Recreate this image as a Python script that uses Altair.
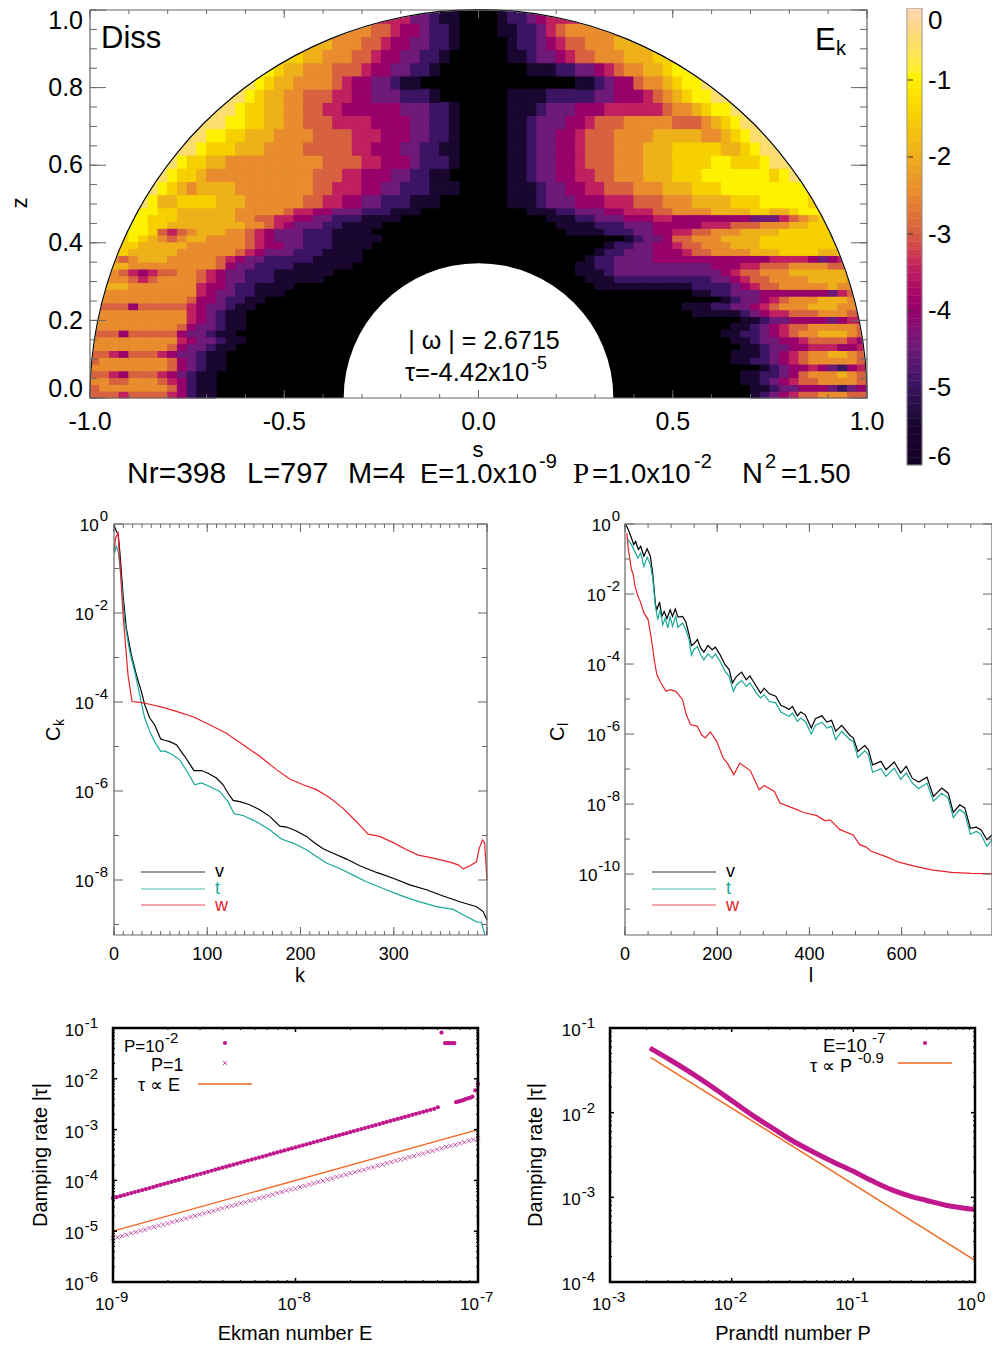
import altair as alt
import pandas as pd

FONT = "Liberation Sans"
MAG = "#c0188c"
ORANGE = "#f26522"
TEAL = "#1aa89a"
RED = "#e8212b"
GRAY = "#666666"
VW, VH = 984, 1343

# ---- log10 energy map, one character per cell: 0=-6, 1=-5.5 ... 9=-1.5, a=-1, b=-0.5, c=0
HEAT_LEFT = [
 "6665666654211","6777777764211","7766777654211","6654666543211","77777777643211",
 "67777777643211","66546665433211","777777776433211","7777777775433211","666466666433211",
 "7777777776433211","7777777777543211","6777777777543211","66664666665433211","677777777764432211",
 "77777777777543322111","888877777775443221111","777765677776543322211111","8876545667765433222111111",
 "888877777777764332222111111","8876788877777654332222211111",
 "9999888887777776543332221111","99999888887777776544332221111","9999a9876788777765433322211111",
 "9999aa96567888776543332221111","9999aa998888888877654333221111","aaaaaa99988888877665544332221111",
 "aaaaaaa998888887777765544333222111",
 "bbbbbba88999988877777766554433222111","bbbbbbba987888877777777665554433222111",
 "bbbbbbbba9987777777777766655444332211",
 "b"*9+"a99887777777777666655444322"+"21",
 "b"*11+"a999888777766666554443322"+"11",
 "b"*12+"aa9988877776666555444332"+"21",
 "b"*14+"aa9988776665555444433221",
 "b"*15+"a998877665544444433322"+"1",
 "b"*16+"a988776665544333222"+"1",
 "b"*17+"a9887777654433211",
 "a"*19+"98877766654433221",
 "9"*22+"887776654433221",
 "8"*25+"7776654433221",
 "7"*29+"665443221",
 "5"*33+"33211",
]
HEAT_RIGHT = [
 "123456677766","112334443234","1123456677776","1122346777876","12344543245",
 "11223456777776","11123456778876","1123344555445","11233445666654","112234567788876",
 "11234566777776","1123344443455","111112345566677765","1112233456777888775","123345677788876",
 "112233344444443566","1111111111222234566777778776","11122222222223345667777888877",
 "111233333333333456677788888887","112233333333334445566677776677",
 "12233334444444444445555434568",
 "1223334445667777888999988999","1223344566777888999999999aa",
 "1233466777888899999999aaa","11112223344556677788889999999aa",
 "1111222333444445556667778899aaaa",
 "11122333444554444444433356789aabb",
 "1112233344555667777888899889aaaabbb",
 "1112333444555666777888899 9aaaaa9bbbbb".replace(" ",""),
 "1112334455666777888999aaaaaaaaabbbbbb",
 "11233445566777888999aaaaaaa9abbbbbbbb",
 "112334456667778889999aa999a"+"b"*10,
 "1123344566677788899999889a"+"b"*11,
 "1123344566677778888877 89a".replace(" ","")+"b"*12,
 "112333445666777776667 89a".replace(" ","")+"b"*13,
 "111233344455555567789aa"+"b"*14,
 "1111222223344456789aa"+"b"*16,
 "11234467789aa"+"b"*17,
 "111223345677889aa"+"b"*18,
 "112334566777888"+"9"*22,
 "12234566777"+"8"*26,
 "1122356"+"7"*31,
 "12234"+"5"*33,
]
Z_EDGES = [round(i*0.0175,4) for i in range(29)] + [round(0.49+0.034*i,4) for i in range(1,16)]

COLOR_DOMAIN = [-6,-5.5,-5,-4.5,-4,-3.5,-3,-2.5,-2,-1.5,-1,-0.5,0]
COLOR_RANGE = ["#000000","#1a0730","#3b1463","#6f1a78","#98006a","#c0205f","#d8623f","#e88c2e",
               "#efb11a","#f7d000","#fff200","#fbdd70","#fbd9c8"]
CB_LABELS = ["0","-1","-2","-3","-4","-5","-6"]
CB_LABEL_POS = [-0.234,-1.015,-2.004,-3.007,-3.996,-4.998,-5.896]
S_LABELS = [-1, -.5, 0, .5, 1]
Z_LABELS = [0, .2, .4, .6, .8, 1]
Z_LABEL_SHIFT = [-9, 1, 0, 0, 0, 11]

# ---- spectra: (degree, log10 amplitude)
CK_V = [(0,-.015),(2.5,-.165),(4.6,-.24),(6.8,-.765),(9.7,-1.59),(13.2,-2.34),(18.6,-2.94),(24,-3.39),(29.3,-3.76),(32.9,-4.06),(38.3,-4.36),(43.6,-4.51),(50,-4.83),(54.4,-4.86),(59.7,-4.89),(66.9,-4.96),(75.8,-5.22),(85.8,-5.54),(93.7,-5.54),(100.9,-5.6),(109.8,-5.71),(117,-5.86),(122.3,-6.05),(127.7,-6.21),(134.8,-6.24),(145.6,-6.31),(156.3,-6.42),(167,-6.57),(177.8,-6.79),(184.9,-6.81),(195.6,-6.9),(206.4,-7.02),(213.5,-7.14),(224.2,-7.3),(235,-7.4),(249.3,-7.53),(263.6,-7.68),(281.5,-7.83),(299.4,-7.96),(317.2,-8.11),(335.1,-8.22),(353,-8.36),(370.9,-8.49),(388.8,-8.6),(395.9,-8.71),(400,-8.9)]
CK_T = [(.7,-.65),(2.5,-.5),(4.6,-.61),(7.9,-1.29),(11.4,-2.19),(16.8,-2.86),(22.2,-3.31),(27.5,-3.84),(32.9,-4.36),(38.3,-4.66),(43.6,-4.89),(50,-5.11),(54.4,-5.1),(63.3,-5.19),(70.5,-5.3),(79.4,-5.6),(86.6,-5.86),(93.7,-5.82),(102.6,-5.9),(113.4,-6.01),(122.3,-6.24),(128.8,-6.51),(138.4,-6.55),(152.7,-6.69),(167,-6.87),(179.5,-7.08),(192.1,-7.17),(206.4,-7.32),(217.1,-7.47),(227.8,-7.62),(242.1,-7.74),(256.4,-7.89),(270.7,-8.04),(288.6,-8.19),(306.5,-8.34),(324.4,-8.47),(345.8,-8.6),(363.7,-8.66),(378,-8.82),(388.8,-8.94),(394.1,-8.95),(397.7,-9.23)]
CK_W = [(0,-.61),(1.8,-.31),(4.3,-.2),(6.1,-.76),(9.7,-2.04),(15,-3.39),(19.3,-3.99),(27.5,-4.01),(38.3,-4.05),(52.6,-4.12),(66.9,-4.21),(84.8,-4.33),(102.6,-4.51),(120.5,-4.7),(138.4,-4.96),(156.3,-5.22),(174.2,-5.52),(188.5,-5.73),(202.8,-5.86),(217.1,-5.97),(231.4,-6.15),(245.7,-6.39),(260,-6.69),(272.5,-6.97),(285,-7.02),(299.4,-7.16),(313.7,-7.32),(326.2,-7.44),(342.3,-7.51),(360.2,-7.6),(369.1,-7.66),(374.5,-7.75),(381.7,-7.68),(388.8,-7.59),(391.6,-7.29),(395.2,-7.1),(397.4,-7.17),(398.8,-7.59),(399.9,-8.0)]
CL_V = [(2,-.02),(7,-.16),(14,-.4),(19,-.59),(23,-.5),(29,-.73),(34,-.64),(41,-.92),(48,-.71),(55,-.92),(60,-1.4),(66,-2.3),(69,-2.45),(75,-2.23),(80,-2.64),(85,-2.5),(91,-2.7),(98,-2.45),(103,-2.64),(109,-2.43),(115,-2.66),(125,-2.64),(132,-2.8),(139,-3.16),(144,-3.47),(149,-3.43),(157,-3.3),(164,-3.54),(171,-3.66),(180,-3.47),(189,-3.59),(196,-3.52),(206,-3.73),(217,-4.02),(226,-4.16),(233,-4.54),(242,-4.35),(253,-4.23),(263,-4.45),(271,-4.34),(285,-4.64),(294,-4.83),(302,-4.69),(313,-4.85),(327,-4.92),(338,-5.18),(349,-5.24),(356,-5.3),(363,-5.21),(374,-5.48),(381,-5.37),(391,-5.45),(404,-5.83),(413,-5.56),(427,-5.48),(438,-5.66),(448,-5.61),(457,-5.92),(470,-5.75),(488,-6.04),(495,-6.1),(505,-6.5),(520,-6.33),(528,-6.45),(537,-6.88),(555,-6.78),(566,-7.02),(584,-6.8),(598,-7.11),(610,-6.92),(623,-7.26),(637,-7.37),(655,-7.23),(669,-7.78),(687,-7.54),(701,-7.69),(712,-8.24),(726,-8.02),(737,-8.11),(749,-8.69),(762,-8.66),(772,-8.73),(785,-9.02),(796,-8.88)]
CL_T = [(4,-.4),(14,-.59),(21,-.78),(28,-.97),(34,-.83),(41,-1.21),(48,-.95),(55,-1.16),(60,-1.54),(66,-2.35),(71,-2.73),(76,-2.45),(82,-2.88),(87,-2.69),(93,-2.97),(98,-2.64),(103,-2.92),(110,-2.64),(115,-2.95),(125,-2.83),(132,-3.02),(139,-3.3),(144,-3.75),(149,-3.59),(157,-3.5),(164,-3.73),(171,-3.88),(180,-3.71),(189,-3.83),(196,-3.71),(206,-3.92),(217,-4.21),(226,-4.35),(235,-4.78),(242,-4.59),(253,-4.47),(263,-4.64),(271,-4.54),(285,-4.83),(294,-4.97),(302,-4.88),(313,-5.07),(327,-5.11),(338,-5.37),(349,-5.45),(356,-5.5),(363,-5.4),(374,-5.64),(381,-5.54),(391,-5.64),(404,-6),(413,-5.75),(427,-5.66),(438,-5.83),(448,-5.78),(457,-6.16),(470,-5.92),(488,-6.16),(495,-6.21),(505,-6.67),(520,-6.48),(528,-6.59),(537,-7.09),(555,-6.99),(566,-7.21),(584,-6.97),(598,-7.3),(610,-7.11),(623,-7.4),(637,-7.56),(655,-7.4),(669,-7.92),(687,-7.69),(701,-7.83),(712,-8.38),(726,-8.16),(737,-8.26),(749,-8.86),(762,-8.78),(772,-8.86),(785,-9.21),(796,-9.02)]
CL_W = [(4,-.26),(7,-.69),(14,-1.3),(18,-1.45),(21,-1.73),(28,-2.07),(33,-2.21),(41,-2.54),(50,-2.73),(57,-3.26),(64,-3.92),(69,-4.3),(78,-4.54),(89,-4.78),(98,-4.73),(110,-4.78),(125,-5.02),(133,-5.45),(142,-5.73),(157,-5.78),(166,-6.02),(174,-6.11),(185,-5.94),(199,-6.21),(213,-6.69),(222,-6.83),(236,-7.16),(249,-6.83),(272,-7.05),(291,-7.59),(302,-7.47),(324,-7.64),(336,-7.97),(363,-8.11),(388,-8.24),(416,-8.33),(434,-8.48),(445,-8.45),(466,-8.73),(495,-8.88),(509,-9.16),(523,-9.23),(534,-9.35),(566,-9.5),(594,-9.66),(630,-9.78),(665,-9.88),(708,-9.95),(751,-9.98),(796,-9.99)]

# ---- damping rate against Ekman number, log10 values
E_P2 = [-9.00,-8.98,-8.96,-8.94,-8.92,-8.90,-8.88,-8.86,-8.84,-8.82,-8.80,-8.78,-8.76,-8.74,-8.72,-8.70,-8.68,-8.66,-8.64,-8.62,-8.60,-8.58,-8.56,-8.54,-8.52,-8.50,-8.48,-8.46,-8.44,-8.42,-8.40,-8.38,-8.36,-8.34,-8.32,-8.30,-8.28,-8.26,-8.24,-8.22,-8.20,-8.18,-8.16,-8.14,-8.12,-8.10,-8.08,-8.06,-8.04,-8.02,-8.00,-7.98,-7.96,-7.94,-7.92,-7.90,-7.88,-7.86,-7.84,-7.82,-7.80,-7.78,-7.76,-7.74,-7.72,-7.70,-7.68,-7.66,-7.64,-7.62,-7.60,-7.58,-7.56,-7.54,-7.52,-7.50,-7.48,-7.46,-7.44,-7.42,-7.40,-7.38,-7.36,-7.34,-7.32,-7.30,-7.28,-7.26,-7.24,-7.22,
        -7.20,-7.18,-7.17,-7.16,-7.15,-7.14,-7.13,-7.12,-7.11,-7.10,-7.09,-7.08,-7.07,-7.06,-7.05,-7.04,-7.03,-7.015,-7.0]
T_P2 = [-4.35,-4.33,-4.31,-4.29,-4.27,-4.25,-4.23,-4.21,-4.19,-4.17,-4.15,-4.13,-4.11,-4.09,-4.07,-4.05,-4.03,-4.01,-3.99,-3.97,-3.95,-3.93,-3.91,-3.89,-3.87,-3.85,-3.83,-3.81,-3.79,-3.77,-3.75,-3.73,-3.71,-3.69,-3.67,-3.65,-3.63,-3.61,-3.59,-3.57,-3.55,-3.53,-3.51,-3.49,-3.47,-3.45,-3.43,-3.41,-3.39,-3.37,-3.35,-3.33,-3.31,-3.29,-3.27,-3.25,-3.23,-3.21,-3.19,-3.17,-3.15,-3.13,-3.11,-3.09,-3.07,-3.05,-3.03,-3.01,-2.99,-2.97,-2.95,-2.93,-2.91,-2.89,-2.87,-2.85,-2.83,-2.81,-2.79,-2.77,-2.75,-2.73,-2.71,-2.69,-2.67,-2.65,-2.63,-2.61,-2.59,-2.56,
        -1.09,-1.30,-1.30,-1.30,-1.30,-1.30,-1.30,-2.46,-2.45,-2.44,-2.43,-2.42,-2.40,-2.39,-2.38,-2.37,-2.35,-2.23,-2.10]
E_P1 = [-9.000,-8.975,-8.950,-8.925,-8.900,-8.875,-8.850,-8.825,-8.800,-8.775,-8.750,-8.725,-8.700,-8.675,-8.650,-8.625,-8.600,-8.575,-8.550,-8.525,-8.500,-8.475,-8.450,-8.425,-8.400,-8.375,-8.350,-8.325,-8.300,-8.275,-8.250,-8.225,-8.200,-8.175,-8.150,-8.125,-8.100,-8.075,-8.050,-8.025,-8.000,-7.975,-7.950,-7.925,-7.900,-7.875,-7.850,-7.825,-7.800,-7.775,-7.750,-7.725,-7.700,-7.675,-7.650,-7.625,-7.600,-7.575,-7.550,-7.525,-7.500,-7.475,-7.450,-7.425,-7.400,-7.375,-7.350,-7.325,-7.300,-7.275,-7.250,-7.225,-7.200,-7.175,-7.150,-7.125,-7.100,-7.075,-7.050,-7.025,-7.000]
T_P1 = [-5.14,-5.12,-5.09,-5.07,-5.04,-5.02,-4.99,-4.97,-4.94,-4.92,-4.89,-4.87,-4.85,-4.82,-4.80,-4.77,-4.75,-4.72,-4.70,-4.67,-4.65,-4.62,-4.60,-4.57,-4.55,-4.52,-4.50,-4.48,-4.45,-4.43,-4.40,-4.38,-4.35,-4.33,-4.30,-4.28,-4.25,-4.23,-4.20,-4.18,-4.16,-4.13,-4.11,-4.08,-4.06,-4.03,-4.01,-3.98,-3.96,-3.93,-3.91,-3.89,-3.86,-3.84,-3.81,-3.79,-3.76,-3.74,-3.71,-3.69,-3.66,-3.64,-3.61,-3.59,-3.57,-3.54,-3.52,-3.49,-3.47,-3.44,-3.42,-3.39,-3.37,-3.34,-3.32,-3.30,-3.27,-3.25,-3.22,-3.20,-3.17]
FIT_E = [(-9,-5.0),(-7,-3.0)]
# ---- damping rate against Prandtl number, log10 values
P_DOTS = [-2.672,-2.508,-2.317,-2.153,-1.989,-1.825,-1.661,-1.497,-1.333,-1.169,-1.005,-.842,-.678,-.514,-.404,-.24,0]
T_DOTS = [-1.237,-1.375,-1.545,-1.703,-1.869,-2.035,-2.185,-2.335,-2.461,-2.579,-2.69,-2.808,-2.915,-2.994,-3.034,-3.093,-3.144]
FIT_P = [(-2.667,-1.347),(0,-3.744)]


def df(**kw):
    return pd.DataFrame(kw)

def txt(t, x, y, size, color="black", align="left", angle=None, font=FONT, o=(0, 0)):
    kw = dict(align=align, baseline="alphabetic", fontSize=size, color=color, font=font)
    if angle is not None:
        kw["angle"] = angle
    return alt.Chart(df(t=[t])).mark_text(**kw).encode(text="t:N", x=alt.value(x + o[0]), y=alt.value(y + o[1]))

def xticks(vals, sc, y0, y1, color=GRAY, w=1):
    return alt.Chart(df(v=vals)).mark_rule(color=color, strokeWidth=w).encode(
        x=alt.X("v:Q", scale=sc, axis=None), y=alt.value(y0), y2=alt.value(y1))

def yticks(vals, sc, x0, x1, color=GRAY, w=1):
    return alt.Chart(df(v=vals)).mark_rule(color=color, strokeWidth=w).encode(
        y=alt.Y("v:Q", scale=sc, axis=None), x=alt.value(x0), x2=alt.value(x1))

def frame(o, W, H, color=GRAY, w=1.2):
    return alt.Chart(df(a=[0])).mark_rect(fill=None, stroke=color, strokeWidth=w).encode(
        x=alt.value(o[0]), x2=alt.value(o[0] + W), y=alt.value(o[1]), y2=alt.value(o[1] + H))

def xnum(vals, sc, y, size, fmt):
    d = df(v=vals, t=[fmt.format(v) for v in vals])
    return alt.Chart(d).mark_text(align="center", baseline="alphabetic", fontSize=size, font=FONT).encode(
        x=alt.X("v:Q", scale=sc, axis=None), y=alt.value(y), text="t:N")

def ylab(exp, sc, xr, base, sup_base, size=17, sup=15):
    s = str(exp)
    wid = sum((5 if c == "-" else 8.3) for c in s) * sup / 15
    d = df(v=[10.0 ** exp], a=["10"], b=[s])
    return [
        alt.Chart(d).mark_text(align="right", baseline="alphabetic", fontSize=size, font=FONT, dy=base).encode(
            y=alt.Y("v:Q", scale=sc, axis=None), x=alt.value(xr - wid - 1), text="a:N"),
        alt.Chart(d).mark_text(align="right", baseline="alphabetic", fontSize=sup, font=FONT, dy=sup_base).encode(
            y=alt.Y("v:Q", scale=sc, axis=None), x=alt.value(xr), text="b:N"),
    ]

def xlab(exp, sc, y, ysup, size=17, sup=15):
    s = str(exp)
    d = df(v=[10.0 ** exp], a=["10"], b=[s])
    return [
        alt.Chart(d).mark_text(align="right", baseline="alphabetic", fontSize=size, font=FONT, dx=1).encode(
            x=alt.X("v:Q", scale=sc, axis=None), y=alt.value(y), text="a:N"),
        alt.Chart(d).mark_text(align="left", baseline="alphabetic", fontSize=sup, font=FONT, dx=2).encode(
            x=alt.X("v:Q", scale=sc, axis=None), y=alt.value(ysup), text="b:N"),
    ]

# ------------------ top map
OT = (82, 0)
TW, Y0, Y1 = 777, 390, 2
sx = alt.Scale(domain=[-1, 1], range=[OT[0], OT[0] + TW], nice=False, zero=False)
sy = alt.Scale(domain=[0, 1], range=[Y0, Y1], nice=False, zero=False)
col_scale = alt.Scale(domain=COLOR_DOMAIN, range=COLOR_RANGE, clamp=True)

cells = []
for r in range(len(Z_EDGES) - 1):
    row = HEAT_LEFT[r].ljust(40, "0")[:40] + HEAT_RIGHT[r].rjust(40, "0")[-40:]
    for c, ch in enumerate(row):
        if ch != "0":
            cells.append(dict(x0=-1 + .025 * c, x1=-1 + .025 * (c + 1), z0=Z_EDGES[r], z1=Z_EDGES[r + 1],
                              v=-6 + .5 * int(ch, 16)))
cells = pd.DataFrame(cells)

under = alt.Chart(df(a=[-1], b=[1], c=[0], d=[1])).mark_rect(color="#000000").encode(
    x=alt.X("a:Q", scale=sx, axis=None), x2="b:Q", y=alt.Y("c:Q", scale=sy, axis=None), y2="d:Q")
heat = alt.Chart(cells).mark_rect(strokeWidth=1, opacity=1).encode(
    x=alt.X("x0:Q", scale=sx, axis=None), x2="x1:Q",
    y=alt.Y("z0:Q", scale=sy, axis=None), y2="z1:Q",
    color=alt.Color("v:Q", scale=col_scale, legend=None),
    stroke=alt.Stroke("v:Q", scale=col_scale, legend=None),
)

th = alt.Scale(domain=[-90, 90], range=[-1.5707963, 1.5707963])
rd = alt.Scale(type="linear", domain=[0, 1.5], range=[0, 1.5 * 388], zero=True)
def ring(r0, r1, color, clip=False):
    d = df(cx=[0], cy=[0], t0=[-90], t1=[90], r0=[r0], r1=[r1])
    return alt.Chart(d).mark_arc(color=color, clip=clip).encode(
        x=alt.X("cx:Q", scale=sx, axis=None), y=alt.Y("cy:Q", scale=sy, axis=None),
        theta=alt.Theta("t0:Q", scale=th), theta2="t1:Q",
        radius=alt.Radius("r1:Q", scale=rd), radius2="r0:Q")

tm_major = [-1, -.5, 0, .5, 1]
tm_minor = [round(-1 + .1 * i, 1) for i in range(21)]
zm_major = [0, .2, .4, .6, .8, 1]
zm_minor = [round(.05 * i, 2) for i in range(21)]
tframe = alt.Chart(df(a=[-1], b=[1], c=[0], d=[1])).mark_rect(fill=None, stroke=GRAY, strokeWidth=1.2).encode(
    x=alt.X("a:Q", scale=sx, axis=None), x2="b:Q", y=alt.Y("c:Q", scale=sy, axis=None), y2="d:Q")
X0, X1 = OT[0], OT[0] + TW
zlabels = [
    alt.Chart(df(v=[z], t=["{:.1f}".format(z)])).mark_text(align="right", baseline="middle", fontSize=25, font=FONT, dy=sh).encode(
        y=alt.Y("v:Q", scale=sy, axis=None), x=alt.value(X0 - 7), text="t:N")
    for z, sh in zip(Z_LABELS, Z_LABEL_SHIFT)
]
top = alt.layer(
    under, heat, ring(1, 1.42, "white", True), ring(0, .3475, "white"), ring(1, 1.0028, "black"),
    xticks(tm_minor, sx, Y0, Y0 - 4), xticks(tm_major, sx, Y0, Y0 - 8),
    xticks(tm_minor, sx, Y1, Y1 + 4), xticks(tm_major, sx, Y1, Y1 + 8),
    yticks(zm_minor, sy, X0, X0 + 7), yticks(zm_major, sy, X0, X0 + 16),
    yticks(zm_minor, sy, X1, X1 - 7), yticks(zm_major, sy, X1, X1 - 16),
    tframe,
    xnum(S_LABELS, sx, 422, 25, "{:.1f}"), *zlabels,
    txt("s", 470, 449, 22, align="center"), txt("z", 19, 195, 22, align="center", angle=270),
    txt("Diss", 11, 40, 31, o=OT),
    txt("E", 725, 42, 31, o=OT), txt("k", 746, 47, 20, o=OT),
    txt("| ω | = 2.6715", 394, 341, 25, align="center", o=OT),
    txt("τ=-4.42x10", 315, 373, 25.5, o=OT), txt("-5", 441, 361, 18, o=OT),
    txt("Nr=398", 37, 475, 30, o=OT), txt("L=797", 157, 475, 29, o=OT), txt("M=4", 258, 475, 29, o=OT),
    txt("E=1.0x10", 330, 475, 27.5, o=OT), txt("-9", 449, 460, 20, o=OT),
    txt("P", 483, 475, 29, font="Liberation Serif", o=OT), txt("=1.0x10", 502, 475, 27.5, o=OT), txt("-2", 604, 460, 20, o=OT),
    txt("N", 652, 475, 29, o=OT), txt("2", 675, 460, 20, o=OT), txt("=1.50", 691, 475, 27.5, o=OT),
)

# ------------------ colour bar
CBX, CBH = 899, 457
cb_sc = alt.Scale(domain=[-6, -0.065], range=[CBH, 0], nice=False, zero=False)
cb_lo = [-6 + .1 * i for i in range(60)]
cb = df(lo=cb_lo, hi=[v + .1 for v in cb_lo])
cbar = alt.layer(
    alt.Chart(cb).mark_rect(strokeWidth=0.5, opacity=1).encode(
        y=alt.Y("lo:Q", scale=cb_sc, axis=None), y2="hi:Q", x=alt.value(CBX), x2=alt.value(CBX + 15),
        color=alt.Color("lo:Q", scale=col_scale, legend=None),
        stroke=alt.Stroke("lo:Q", scale=col_scale, legend=None)),
    yticks([-5, -4, -3, -2, -1], cb_sc, CBX, CBX + 6, "#333333"),
    frame((CBX, 0), 15, CBH, "#999999", 1),
    alt.Chart(df(v=CB_LABEL_POS, t=CB_LABELS)).mark_text(align="left", baseline="middle", fontSize=26, font=FONT).encode(
        y=alt.Y("v:Q", scale=cb_sc, axis=None), x=alt.value(CBX + 21), text="t:N"),
)

# ------------------ spectra
SH = 411
def spectrum(o, SW, v, t, w, xmax, ymin, xvals, xmajor, xminor, xtitle, ysub, exps_lab, exps_odd, xr, leg_x0, subx):
    ox, oy = o
    xs = alt.Scale(domain=[0, xmax], range=[ox, ox + SW], nice=False, zero=False)
    ys = alt.Scale(type="log", domain=[10.0 ** ymin, 1], range=[oy + SH, oy], nice=False, base=10)
    def line(pairs, color):
        d = df(x=[p[0] for p in pairs], y=[10.0 ** p[1] for p in pairs])
        return alt.Chart(d).mark_line(color=color, strokeWidth=1.2).encode(
            x=alt.X("x:Q", scale=xs, axis=None), y=alt.Y("y:Q", scale=ys, axis=None))
    parts = [line(v, "black"), line(t, TEAL), line(w, RED),
             xticks(xminor, xs, oy + SH, oy + SH - 4), xticks(xmajor, xs, oy + SH, oy + SH - 8),
             xticks(xminor, xs, oy, oy + 4), xticks(xmajor, xs, oy, oy + 8)]
    maj = [10.0 ** e for e in exps_lab]
    odd = [10.0 ** e for e in exps_odd]
    parts += [yticks(odd, ys, ox, ox + 5), yticks(maj, ys, ox, ox + 9), yticks(odd, ys, ox + SW, ox + SW - 5), yticks(maj, ys, ox + SW, ox + SW - 9), frame(o, SW, SH)]
    parts.append(xnum(xvals, xs, oy + 436, 18, "{:d}"))
    parts.append(txt(xtitle, 186, 458, 20, align="center", o=o))
    for e in exps_lab:
        parts += ylab(e, ys, ox + xr, 7, -3)
    for yy, c, lab, by in ((348, "black", "v", 353), (365, TEAL, "t", 370), (381, RED, "w", 387)):
        parts.append(alt.Chart(df(a=[0])).mark_rule(color=c, strokeWidth=1, opacity=.8).encode(
            x=alt.value(ox + leg_x0), x2=alt.value(ox + leg_x0 + 64), y=alt.value(oy + yy)))
        parts.append(txt(lab, leg_x0 + 74, by, 18, color=c, o=o))
    parts += [txt("C", subx, 217, 20, angle=270, o=o), txt(ysub, subx + 4, 202, 14, angle=270, o=o)]
    return alt.layer(*parts)

left_spec = spectrum((106, 516), 373, CK_V, CK_T, CK_W, 400, -9.236, [0, 100, 200, 300], [0, 100, 200, 300, 400], list(range(0, 401, 10)),
                     "k", "k", [0, -2, -4, -6, -8], [-1, -3, -5, -7, -9], -6, 27, -54)
right_spec = spectrum((617, 516), 367, CL_V, CL_T, CL_W, 796, -11.74, [0, 200, 400, 600], [0, 200, 400, 600], list(range(0, 796, 50)),
                      "l", "l", [0, -2, -4, -6, -8, -10], [-1, -3, -5, -7, -9, -11], -5, 27, -61)

# ------------------ damping panels
DW, DH = 365, 254
def sub_decades(a, b):
    return [m * 10.0 ** e for e in range(a, b) for m in (2, 3, 4, 5, 6, 7, 8, 9)]

def damp_frame(o, xs, ys, xa, xb, ya, yb, xtitle, xtc, ytx):
    ox, oy = o
    xm = [10.0 ** e for e in range(xa, xb + 1)]
    ym = [10.0 ** e for e in range(ya, yb + 1)]
    xn, yn = sub_decades(xa, xb), sub_decades(ya, yb)
    out = [xticks(xn, xs, oy + DH, oy + DH - 2, "black"), xticks(xm, xs, oy + DH, oy + DH - 4, "black", 1.5),
           xticks(xn, xs, oy, oy + 2, "black"), xticks(xm, xs, oy, oy + 4, "black", 1.5),
           yticks(yn, ys, ox, ox + 2, "black"), yticks(ym, ys, ox, ox + 4, "black", 1.5),
           yticks(yn, ys, ox + DW, ox + DW - 2, "black"), yticks(ym, ys, ox + DW, ox + DW - 4, "black", 1.5),
           frame(o, DW, DH, "black", 2.5),
           txt(xtitle, xtc, 312, 20, align="center", o=o),
           txt("Damping rate |τ|", ytx, 127, 20, align="center", angle=270, o=o)]
    for e in range(xa, xb + 1):
        out += xlab(e, xs, oy + 282, oy + 274)
    for e in range(ya, yb + 1):
        out += ylab(e, ys, ox - 15, 8, 0)
    return out

OE = (105, 1020)
sxE = alt.Scale(type="log", domain=[1e-9, 1e-7], range=[OE[0], OE[0] + DW], nice=False, base=10)
syE = alt.Scale(type="log", domain=[1e-6, 1e-1], range=[OE[1] + DH, OE[1]], nice=False, base=10)
X_SHAPE = "M-1,-1L1,1M-1,1L1,-1"
dE = df(x=[10.0 ** e for e in E_P2], y=[10.0 ** t for t in T_P2])
cE = df(x=[10.0 ** e for e in E_P1], y=[10.0 ** t for t in T_P1])
fE = df(x=[10.0 ** p[0] for p in FIT_E], y=[10.0 ** p[1] for p in FIT_E])
CROSS = "#c040a0"
damp_E = alt.layer(
    alt.Chart(cE).mark_point(shape=X_SHAPE, size=18, color=CROSS, strokeWidth=.9, filled=False, opacity=1).encode(
        x=alt.X("x:Q", scale=sxE, axis=None), y=alt.Y("y:Q", scale=syE, axis=None)),
    alt.Chart(dE).mark_circle(size=18, color=MAG, opacity=1).encode(
        x=alt.X("x:Q", scale=sxE, axis=None), y=alt.Y("y:Q", scale=syE, axis=None)),
    alt.Chart(fE).mark_line(color=ORANGE, strokeWidth=1.4).encode(
        x=alt.X("x:Q", scale=sxE, axis=None), y=alt.Y("y:Q", scale=syE, axis=None)),
    *damp_frame(OE, sxE, syE, -9, -7, -6, -1, "Ekman number E", 182, -66),
    txt("P=10", 11, 24, 17, o=OE), txt("-2", 52, 15, 15, o=OE),
    txt("P=1", 38, 43, 18, o=OE), txt("τ ∝ E", 25, 63, 18, o=OE),
    alt.Chart(df(a=[0])).mark_circle(size=18, color=MAG, opacity=1).encode(x=alt.value(OE[0] + 112), y=alt.value(OE[1] + 15)),
    alt.Chart(df(a=[0])).mark_point(shape=X_SHAPE, size=18, color=CROSS, strokeWidth=.9, opacity=1).encode(x=alt.value(OE[0] + 112), y=alt.value(OE[1] + 35)),
    alt.Chart(df(a=[0])).mark_rule(color=ORANGE, strokeWidth=1.4).encode(x=alt.value(OE[0] + 85), x2=alt.value(OE[0] + 139), y=alt.value(OE[1] + 56)),
)

OP = (602, 1020)
sxP = alt.Scale(type="log", domain=[1e-3, 1], range=[OP[0], OP[0] + DW], nice=False, base=10)
syP = alt.Scale(type="log", domain=[1e-4, 1e-1], range=[OP[1] + DH, OP[1]], nice=False, base=10)
dP = df(x=[10.0 ** e for e in P_DOTS], y=[10.0 ** t for t in T_DOTS])
fP = df(x=[10.0 ** p[0] for p in FIT_P], y=[10.0 ** p[1] for p in FIT_P])
damp_P = alt.layer(
    alt.Chart(dP).mark_line(color=MAG, strokeWidth=5, interpolate="monotone").encode(
        x=alt.X("x:Q", scale=sxP, axis=None), y=alt.Y("y:Q", scale=syP, axis=None)),
    alt.Chart(fP).mark_line(color=ORANGE, strokeWidth=1.4).encode(
        x=alt.X("x:Q", scale=sxP, axis=None), y=alt.Y("y:Q", scale=syP, axis=None)),
    *damp_frame(OP, sxP, syP, -3, 0, -4, -1, "Prandtl number P", 183, -68),
    txt("E=10", 213, 24, 18.5, o=OP), txt("-7", 262, 15, 15, o=OP),
    txt("τ ∝ P", 200, 44, 18, o=OP), txt("-0.9", 248, 35, 15, o=OP),
    alt.Chart(df(a=[0])).mark_circle(size=18, color=MAG, opacity=1).encode(x=alt.value(OP[0] + 315), y=alt.value(OP[1] + 15)),
    alt.Chart(df(a=[0])).mark_rule(color=ORANGE, strokeWidth=1.4).encode(x=alt.value(OP[0] + 288), x2=alt.value(OP[0] + 342), y=alt.value(OP[1] + 35)),
)

# ------------------ layout: one view, each panel with independent scales placed by its range
chart = alt.layer(top, cbar, left_spec, right_spec, damp_E, damp_P).resolve_scale(
    x="independent", y="independent"
).properties(
    width=VW, height=VH, padding=0, autosize=alt.AutoSizeParams(type="none"), background="white"
).configure_view(stroke=None)

chart.save("out.html", embed_options={"renderer": "svg", "actions": False})
